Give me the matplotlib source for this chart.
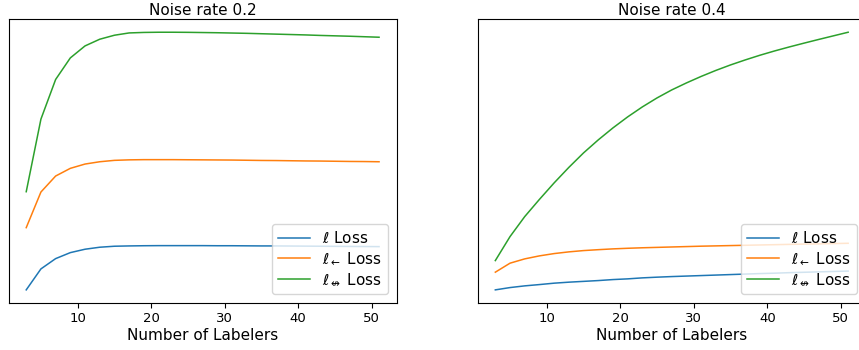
import numpy as np
import matplotlib
matplotlib.use("Agg")
import matplotlib.pyplot as plt

# number of labelers (odd counts 3..51)
labelers = list(range(3, 52, 2))

# noise rate 0.2
plain_02 = [0.10, 0.31, 0.413, 0.473, 0.507, 0.527, 0.537, 0.54, 0.542, 0.543,
            0.543, 0.543, 0.543, 0.542, 0.542, 0.541, 0.54, 0.54, 0.539, 0.538,
            0.537, 0.536, 0.535, 0.534, 0.533]
back_02 = [0.723, 1.08, 1.24, 1.317, 1.36, 1.383, 1.397, 1.402, 1.404, 1.404,
           1.404, 1.403, 1.402, 1.401, 1.40, 1.398, 1.396, 1.395, 1.393, 1.391,
           1.39, 1.388, 1.386, 1.385, 1.383]
cross_02 = [1.083, 1.81, 2.207, 2.423, 2.543, 2.61, 2.65, 2.673, 2.678, 2.68,
            2.68, 2.679, 2.677, 2.675, 2.672, 2.669, 2.665, 2.661, 2.657, 2.653,
            2.648, 2.644, 2.64, 2.635, 2.63]

# noise rate 0.4
plain_04 = [0.10, 0.123, 0.14, 0.153, 0.167, 0.177, 0.185, 0.193, 0.203, 0.21,
            0.22, 0.227, 0.233, 0.238, 0.243, 0.248, 0.253, 0.258, 0.263, 0.267,
            0.272, 0.276, 0.28, 0.284, 0.288]
back_04 = [0.277, 0.367, 0.41, 0.44, 0.463, 0.48, 0.493, 0.502, 0.51, 0.516,
           0.521, 0.525, 0.529, 0.533, 0.537, 0.54, 0.543, 0.546, 0.549, 0.552,
           0.555, 0.558, 0.56, 0.563, 0.566]
cross_04 = [0.393, 0.633, 0.833, 1.005, 1.17, 1.325, 1.47, 1.60, 1.72, 1.83,
            1.93, 2.02, 2.10, 2.17, 2.235, 2.295, 2.35, 2.40, 2.447, 2.49,
            2.53, 2.568, 2.605, 2.641, 2.677]

labels = [r'$\ell$ Loss', r'$\ell_{\leftarrow}$ Loss', r'$\ell_{\nleftrightarrow}$ Loss']
panels = [("Noise rate 0.2", plain_02, back_02, cross_02),
          ("Noise rate 0.4", plain_04, back_04, cross_04)]

fig = plt.figure(figsize=(8.59, 3.5), dpi=100)
positions = [[0.010, 0.135, 0.4518, 0.8097],
             [0.5561, 0.135, 0.4518, 0.8097]]

for pos, (title, a, b, c) in zip(positions, panels):
    ax = fig.add_axes(pos)
    ax.plot(labelers, a, lw=1.1, label=labels[0])
    ax.plot(labelers, b, lw=1.1, label=labels[1])
    ax.plot(labelers, c, lw=1.1, label=labels[2])
    ax.set_yticks([])
    ax.set_xticks([10, 20, 30, 40, 50])
    ax.tick_params(axis='x', labelsize=9.5)
    ax.set_xlabel("Number of Labelers", fontsize=11, labelpad=2)
    ax.set_title(title, fontsize=11, pad=3)
    ax.legend(loc="lower right", fontsize=11, labelspacing=0.3,
              handlelength=2.1, borderaxespad=0.55)

fig.savefig("out.png", dpi=100)
